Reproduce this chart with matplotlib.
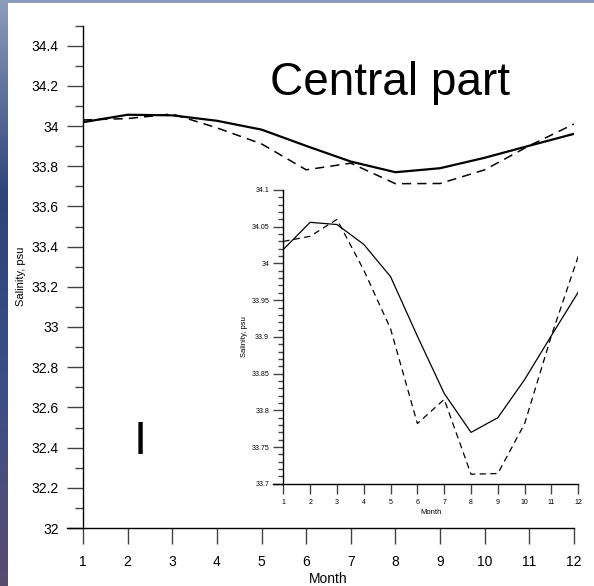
import numpy as np
import matplotlib
matplotlib.use('Agg')
import matplotlib.pyplot as plt
from matplotlib.ticker import MultipleLocator
from matplotlib.patches import Rectangle
from matplotlib.colors import LinearSegmentedColormap

plt.rcParams['font.family'] = ['Liberation Sans', 'DejaVu Sans']

# Monthly mean salinity, central part
months = np.arange(1, 13)
sal_solid = [34.019, 34.056, 34.053, 34.026, 33.982, 33.901,
             33.823, 33.770, 33.790, 33.842, 33.902, 33.961]
sal_dashed = [34.030, 34.037, 34.060, 33.991, 33.911, 33.782,
              33.815, 33.713, 33.714, 33.782, 33.902, 34.010]
main_yticks = [32, 32.2, 32.4, 32.6, 32.8, 33, 33.2, 33.4, 33.6, 33.8, 34, 34.2, 34.4]
inset_yticks = [33.7, 33.75, 33.8, 33.85, 33.9, 33.95, 34, 34.05, 34.1]

W, H = 594, 586
fig = plt.figure(figsize=(W / 100, H / 100), dpi=100)
fig.patch.set_facecolor('#34497a')

# backdrop strips (slide background), then white page
bg = fig.add_axes([0, 0, 1, 1], zorder=-10)
grad = np.linspace(0, 1, 256).reshape(-1, 1)
bg.imshow(grad, aspect='auto', extent=[0, 1, 0, 1],
          cmap=LinearSegmentedColormap.from_list(
              'bgc', ['#8d9cbc', '#2c4478', '#3b4f86', '#5a4a70']))
bg.axis('off')
fig.patches.append(Rectangle((8 / W, 0), 1 - 8 / W, 1 - 3 / H, transform=fig.transFigure,
                             facecolor='white', edgecolor='none', zorder=-5))


def px_axes(l, r, t, b):
    return [l / W, 1 - b / H, (r - l) / W, (b - t) / H]


def style_axes(ax, major_len, minor_len, fs, xpad, ypad, ext_px, width_px):
    for s in ['top', 'right', 'bottom']:
        ax.spines[s].set_visible(False)
    ax.spines['left'].set_linewidth(1.0)
    ax.tick_params(axis='both', which='major', direction='out', length=major_len,
                   width=1.0, color='#444444', labelsize=fs)
    ax.tick_params(axis='x', which='major', pad=xpad)
    ax.tick_params(axis='y', which='major', pad=ypad)
    ax.tick_params(axis='y', which='minor', direction='out', length=minor_len,
                   width=1.0, color='#444444')
    # x axis line runs a bit left of the y axis
    ax.plot([-ext_px / width_px, 1], [0, 0], transform=ax.transAxes,
            color='black', lw=1.0, clip_on=False)
    ax.set_facecolor('none')


# main axes
ax = fig.add_axes(px_axes(83, 574, 25.5, 528))
ax.plot(months, sal_solid, color='black', lw=1.6)
ax.plot(months, sal_dashed, color='black', lw=1.1, dashes=(6, 4))
ax.set_xlim(1, 12)
ax.set_ylim(32, 34.5)
ax.set_xticks(months)
ax.set_yticks(main_yticks)
ax.set_yticklabels(['%g' % v for v in main_yticks])
ax.yaxis.set_minor_locator(MultipleLocator(0.1))
style_axes(ax, 11.5, 5.8, 10, 8, 6, 16, 491)
ax.set_xlabel('Month', fontsize=10, labelpad=2)
ax.set_ylabel('Salinity, psu', fontsize=8, labelpad=4)
fig.text(390 / W, 1 - 95 / H, 'Central part', fontsize=33, ha='center', va='baseline')
ax.text(2.28, 32.43, 'I', fontsize=34, ha='center', va='center')

# inset axes
ins = fig.add_axes(px_axes(283.3, 578.3, 190, 483.8))
ins.plot(months, sal_solid, color='black', lw=0.9)
ins.plot(months, sal_dashed, color='black', lw=0.9, dashes=(5, 3.5))
ins.set_xlim(1, 12)
ins.set_ylim(33.7, 34.1)
ins.set_xticks(months)
ins.set_yticks(inset_yticks)
ins.set_yticklabels(['%g' % v for v in inset_yticks])
ins.yaxis.set_minor_locator(MultipleLocator(0.01))
style_axes(ins, 7.2, 3.6, 5, 4, 3, 10, 295)
ins.set_xlabel('Month', fontsize=5.5, labelpad=2)
ins.set_ylabel('Salinity, psu', fontsize=5.5, labelpad=2)

fig.savefig('out.png', dpi=100)
